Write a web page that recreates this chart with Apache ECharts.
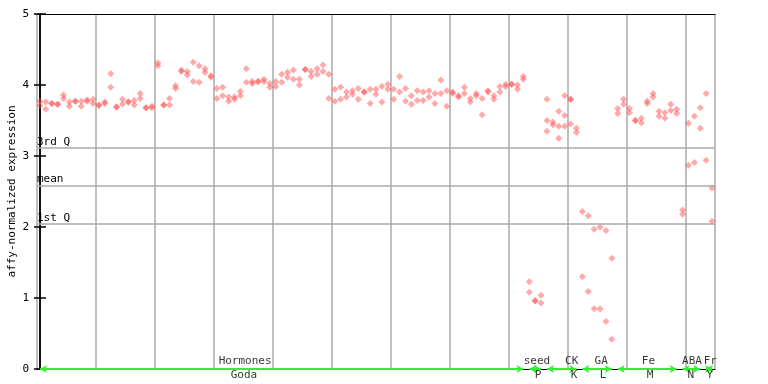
<!DOCTYPE html>
<html>
<head>
<meta charset="utf-8">
<script src="https://cdn.jsdelivr.net/npm/echarts@6/dist/echarts.min.js"></script>
<style>
html,body{margin:0;padding:0;background:#fff;}
#chart{width:768px;height:384px;}
</style>
</head>
<body>
<div id="chart"></div>
<script>
// replicate values per sample (index 0..114)
const rep1 = [3.77,3.76,3.74,3.73,3.86,3.76,3.77,3.77,3.79,3.80,
  3.72,3.76,4.16,3.69,3.80,3.76,3.78,3.88,3.68,3.70,
  4.31,3.72,3.81,3.99,4.21,4.19,4.32,4.27,4.23,4.13,
  3.95,3.97,3.83,3.83,3.91,4.23,4.05,4.05,4.08,4.02,
  4.05,4.15,4.18,4.21,4.08,4.22,4.19,4.23,4.28,4.15,
  3.94,3.97,3.90,3.92,3.95,3.90,3.94,3.94,3.98,4.01,
  3.94,4.12,3.95,3.85,3.92,3.90,3.92,3.88,4.07,3.92,
  3.90,3.85,3.97,3.81,3.88,3.81,3.92,3.85,3.98,4.01,
  4.01,4.00,4.12,1.23,0.96,1.04,3.80,3.48,3.63,3.85,
  3.80,3.39,2.22,2.16,1.97,2.00,1.95,1.56,3.67,3.80,
  3.67,3.50,3.53,3.77,3.88,3.63,3.61,3.73,3.66,2.24,
  3.46,3.56,3.68,3.88,2.55];
const rep2 = [3.71,3.66,3.74,3.73,3.81,3.70,3.77,3.70,3.77,3.74,
  3.71,3.74,3.97,3.69,3.73,3.76,3.72,3.81,3.68,3.68,
  4.27,3.72,3.72,3.95,4.19,4.14,4.05,4.04,4.18,4.11,
  3.81,3.85,3.77,3.80,3.85,4.04,4.02,4.05,4.05,3.97,
  3.98,4.04,4.11,4.08,4.00,4.22,4.12,4.15,4.19,3.81,
  3.77,3.80,3.83,3.87,3.80,3.90,3.74,3.87,3.76,3.94,
  3.80,3.90,3.77,3.73,3.78,3.78,3.83,3.74,3.88,3.70,
  3.88,3.83,3.88,3.76,3.85,3.58,3.90,3.80,3.90,3.98,
  4.01,3.94,4.08,1.08,0.96,0.93,3.50,3.44,3.42,3.57,
  3.80,3.33,1.30,1.09,0.85,0.85,0.67,0.42,3.60,3.73,
  3.61,3.50,3.47,3.74,3.83,3.56,3.53,3.64,3.60,2.18,
  2.87,2.91,3.39,2.94,2.08];
// third replicate, only where visible
const rep3Idx = [86, 88, 89, 90];
const rep3Val = [3.35, 3.25, 3.42, 3.45];

// reference lines
const refNames = ['3rd Q', 'mean', '1st Q'];
const refValues = [3.11, 2.58, 2.04];

// experiment groups (sample index ranges)
const groupTop = ['Hormones', 'seed', 'CK', 'GA', 'Fe', 'ABA', 'Fr'];
const groupBottom = ['Goda', 'P', 'K', 'L', 'M', 'N', 'Y'];
const groupStart = [0, 83, 86, 92, 98, 109, 113];
const groupEnd = [82, 85, 91, 97, 108, 112, 114];
// label anchor positions (sample index units)
const topLabelPos = [34.8, 84.3, 90.2, 95.2, 103.2, 110.6, 113.7];
const bottomLabelPos = [34.6, 84.5, 90.6, 95.5, 103.5, 110.4, 113.6];

const yTicks = [0, 1, 2, 3, 4, 5];

const FONT = 'DejaVu Sans Mono';
const RED = 'rgba(255,80,80,0.62)';

const points = [];
rep1.forEach((v, i) => points.push([i, v]));
rep2.forEach((v, i) => points.push([i, v]));
rep3Idx.forEach((i, k) => points.push([i, rep3Val[k]]));

const chart = echarts.init(document.getElementById('chart'), null, {renderer: 'canvas'});
chart.setOption({
  animation: false,
  backgroundColor: '#fff',
  grid: {left: 37, right: 53, top: 14, bottom: 15, containLabel: false, outerBoundsMode: 'none'},
  xAxis: [{
    type: 'value', min: -0.5, max: 114.5, interval: 10,
    axisLine: {show: true, onZero: false, lineStyle: {color: '#000', width: 1}},
    axisTick: {show: false}, axisLabel: {show: false},
    splitLine: {show: true, lineStyle: {color: '#aaaaaa', width: 1.5}}
  }, {
    type: 'value', position: 'top', min: -0.5, max: 114.5,
    axisLine: {show: true, onZero: false, lineStyle: {color: '#000', width: 1}},
    axisTick: {show: false}, axisLabel: {show: false}, splitLine: {show: false}
  }],
  yAxis: [{
    type: 'value', min: yTicks[0], max: yTicks[yTicks.length - 1], interval: 1,
    axisLine: {show: true, lineStyle: {color: '#000', width: 1.5}},
    axisTick: {show: true, inside: true, length: 6, lineStyle: {color: '#000', width: 1.5}},
    axisLabel: {fontFamily: FONT, fontSize: 11, color: '#000', margin: 8},
    splitLine: {show: false}
  }, {
    type: 'value', position: 'right', min: 0, max: 5, interval: 1,
    axisLine: {show: true, lineStyle: {color: '#000', width: 1.5}},
    axisTick: {show: true, inside: true, length: 6, lineStyle: {color: '#000', width: 1.5}},
    axisLabel: {show: false}, splitLine: {show: false}
  }, {
    type: 'value', position: 'left', min: 0, max: 5,
    name: 'affy-normalized expression', nameLocation: 'middle', nameRotate: 90, nameGap: 19,
    nameTextStyle: {fontFamily: FONT, fontSize: 11, color: '#000'},
    axisLine: {show: false}, axisTick: {show: false}, axisLabel: {show: false},
    splitLine: {show: false}
  }],
  series: [{
    type: 'scatter',
    symbol: 'diamond', symbolSize: 7,
    itemStyle: {color: RED},
    data: points,
    markLine: {
      silent: true, symbol: 'none',
      lineStyle: {color: '#aaaaaa', width: 1.5, type: 'solid'},
      label: {position: 'insideStartTop', distance: [0, 1], formatter: p => p.name,
        fontFamily: FONT, fontSize: 11, color: '#000'},
      data: refValues.map((v, k) => ({name: refNames[k], yAxis: v}))
    },
    z: 3
  }, {
    type: 'scatter', symbolSize: 0, clip: false, silent: true,
    data: groupStart.map((s, k) => [s, 0]),
    itemStyle: {opacity: 0},
    markLine: {
      silent: true,
      symbol: ['arrow', 'arrow'], symbolSize: [6, 7],
      lineStyle: {color: '#33ee33', width: 2, type: 'solid'},
      itemStyle: {color: '#33ee33'},
      label: {show: false},
      data: groupStart.map((s, k) => [{coord: [s, 0]}, {coord: [groupEnd[k], 0]}])
    },
    z: 4
  }, {
    type: 'scatter', symbolSize: 0, clip: false, silent: true,
    data: topLabelPos.map((p, k) => ({value: [p, 0], name: groupTop[k]})),
    label: {show: true, position: 'top', distance: 2, formatter: p => p.name,
      fontFamily: FONT, fontSize: 11, color: '#000'},
    z: 5
  }, {
    type: 'scatter', symbolSize: 0, clip: false, silent: true,
    data: bottomLabelPos.map((p, k) => ({value: [p, 0], name: groupBottom[k]})),
    label: {show: true, position: 'bottom', distance: 1, formatter: p => p.name,
      fontFamily: FONT, fontSize: 11, color: '#000'},
    z: 5
  }]
});
</script>
</body>
</html>
